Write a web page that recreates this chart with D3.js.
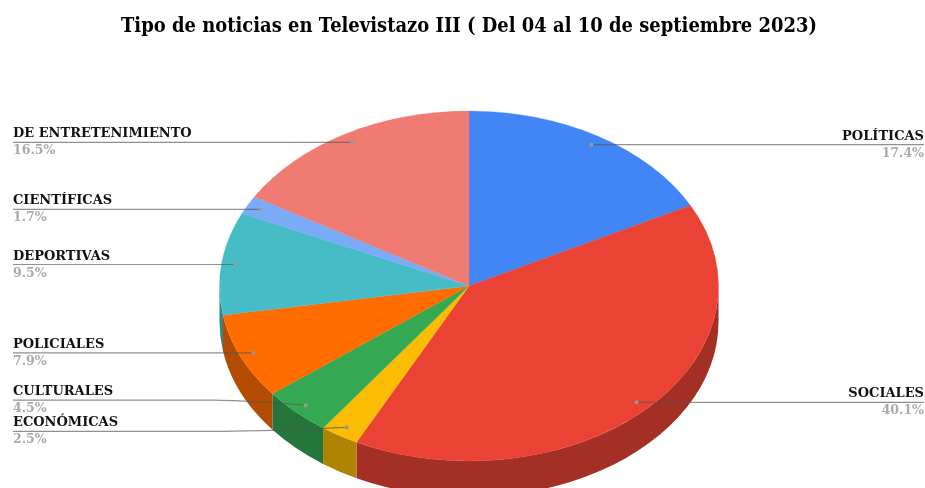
<!DOCTYPE html>
<html>
<head>
<meta charset="utf-8">
<script src="https://cdn.jsdelivr.net/npm/d3@7"></script>
<style>
html, body { margin: 0; background: #fff; }
svg { display: block; filter: blur(0.35px); }
text { font-family: "DejaVu Serif", serif; font-weight: bold; }
</style>
</head>
<body>
<svg width="925" height="488"></svg>
<script>
var categories = ["POLÍTICAS", "SOCIALES", "ECONÓMICAS", "CULTURALES", "POLICIALES", "DEPORTIVAS", "CIENTÍFICAS", "DE ENTRETENIMIENTO"];
var values = [17.4, 40.1, 2.5, 4.5, 7.9, 9.5, 1.7, 16.5];
var colors = ["#4285f4", "#ea4335", "#fbbc04", "#34a853", "#ff6d01", "#46bdc6", "#7baaf7", "#f07b72"];
// the two labels that got pushed away from their slice
var labelShift = [0, 0, 4, -5, 0, 0, 0, 0];

var title = "Tipo de noticias en Televistazo III ( Del 04 al 10 de septiembre 2023)";

var svg = d3.select("svg"),
    cx = 469, cy = 286,
    rx = 249.5, ry = 175,
    depth = 36,
    leftX = 13, rightX = 924;

svg.append("text")
    .attr("x", 469)
    .attr("y", 32)
    .attr("text-anchor", "middle")
    .attr("font-size", 20)
    .attr("textLength", 696)
    .attr("lengthAdjust", "spacingAndGlyphs")
    .attr("fill", "#000")
    .text(title);

var pie = d3.pie().sort(null).value(function(d) { return d; });
var slices = pie(values);

function px(a) { return cx + rx * Math.sin(a); }
function py(a) { return cy - ry * Math.cos(a); }

// side wall, only the front half of the ellipse shows
var side = svg.append("g");
slices.forEach(function(d, i) {
  var a0 = Math.max(d.startAngle, Math.PI / 2),
      a1 = Math.min(d.endAngle, Math.PI * 1.5);
  if (a1 <= a0) return;
  side.append("path")
      .attr("d", "M" + px(a0) + "," + py(a0)
        + "A" + rx + "," + ry + " 0 0 1 " + px(a1) + "," + py(a1)
        + "L" + px(a1) + "," + (py(a1) + depth)
        + "A" + rx + "," + ry + " 0 0 0 " + px(a0) + "," + (py(a0) + depth) + "Z")
      .attr("fill", d3.rgb(colors[i]).darker(1).formatHex());
});

// top face is a normal arc squashed vertically
var arc = d3.arc().innerRadius(0).outerRadius(rx);
svg.append("g")
    .attr("transform", "translate(" + cx + "," + cy + ") scale(1," + (ry / rx) + ")")
  .selectAll("path")
  .data(slices)
  .enter().append("path")
    .attr("d", arc)
    .attr("fill", function(d, i) { return colors[i]; })
    .attr("stroke", function(d, i) { return colors[i]; })
    .attr("stroke-width", 0.4);

var leader = d3.line().curve(d3.curveMonotoneX);

slices.forEach(function(d, i) {
  var mid = (d.startAngle + d.endAngle) / 2,
      dotX = cx + 0.945 * rx * Math.sin(mid),
      dotY = cy - 0.945 * ry * Math.cos(mid),
      right = mid < Math.PI,
      lineY = dotY + labelShift[i],
      edge = right ? rightX : leftX,
      pts = labelShift[i] ? [[edge, lineY], [edge + 200, lineY], [dotX, dotY]] : [[edge, lineY], [dotX, dotY]];

  svg.append("path")
      .attr("d", leader(pts))
      .attr("fill", "none")
      .attr("stroke", "#555")
      .attr("stroke-opacity", 0.65)
      .attr("stroke-width", 1.2);

  svg.append("circle")
      .attr("cx", dotX)
      .attr("cy", dotY)
      .attr("r", 2)
      .attr("fill", "#999");

  svg.append("text")
      .attr("x", edge)
      .attr("y", lineY - 5)
      .attr("text-anchor", right ? "end" : "start")
      .attr("font-size", 13)
      .attr("fill", "#111")
      .text(categories[i]);

  svg.append("text")
      .attr("x", edge)
      .attr("y", lineY + 12)
      .attr("text-anchor", right ? "end" : "start")
      .attr("font-size", 12.5)
      .attr("fill", "#aaa")
      .text(values[i].toFixed(1) + "%");
});
</script>
</body>
</html>
